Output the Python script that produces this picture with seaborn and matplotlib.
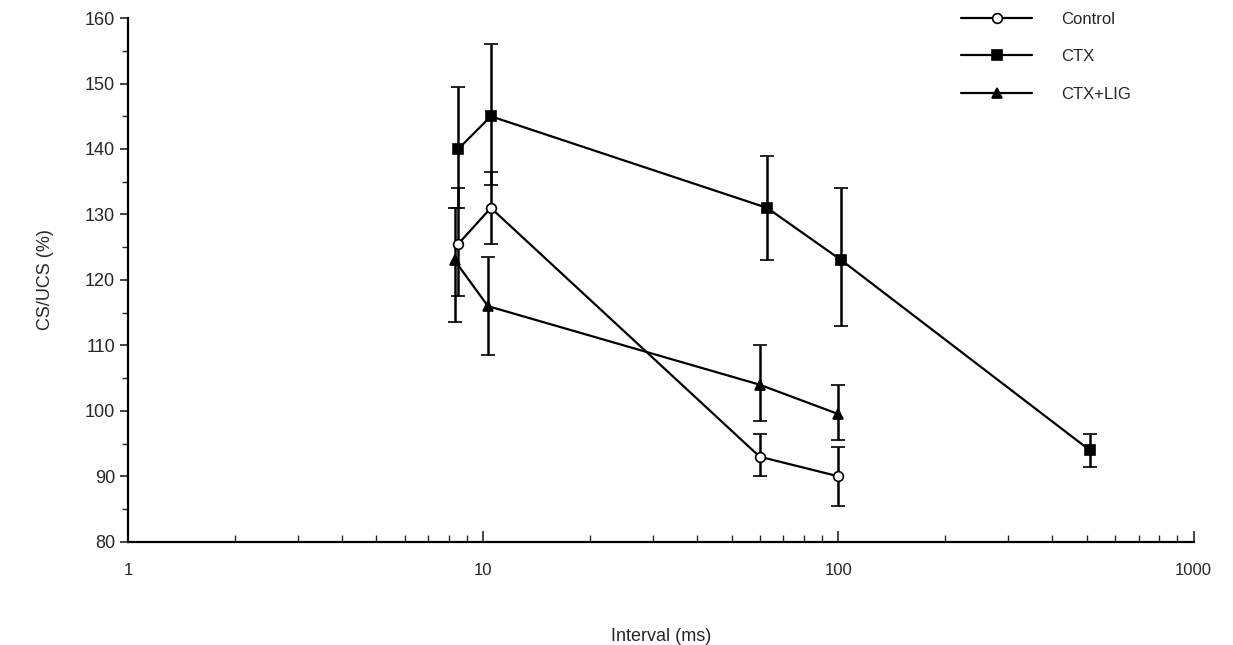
import matplotlib
matplotlib.use("Agg")
import matplotlib.pyplot as plt
from matplotlib.ticker import LogLocator, FixedLocator, NullFormatter
import seaborn as sns
import pandas as pd

groups = ["Control", "CTX", "CTX+LIG"]

ctrl_x = [8.5, 10.5, 60, 100]
ctrl_y = [125.5, 131, 93, 90]
ctrl_lo = [117.5, 125.5, 90, 85.5]
ctrl_hi = [134, 136.5, 96.5, 94.5]

ctx_x = [8.5, 10.5, 63, 102, 510]
ctx_y = [140, 145, 131, 123, 94]
ctx_lo = [131, 134.5, 123, 113, 91.5]
ctx_hi = [149.5, 156, 139, 134, 96.5]

lig_x = [8.3, 10.3, 60, 100]
lig_y = [123, 116, 104, 99.5]
lig_lo = [113.5, 108.5, 98.5, 95.5]
lig_hi = [131, 123.5, 110, 104]

sns.set_theme(style="ticks")
plt.rcParams["font.family"] = ["Liberation Sans", "DejaVu Sans"]

df = pd.concat([
    pd.DataFrame({"interval": ctrl_x, "ratio": ctrl_y, "group": "Control"}),
    pd.DataFrame({"interval": ctx_x, "ratio": ctx_y, "group": "CTX"}),
    pd.DataFrame({"interval": lig_x, "ratio": lig_y, "group": "CTX+LIG"}),
], ignore_index=True)

fig = plt.figure(figsize=(12.33, 6.45), dpi=100)
ax = fig.add_axes([0.104, 0.16, 0.864, 0.812])

# error bars first, so markers sit on top
for xs, ys, lo, hi in [(ctrl_x, ctrl_y, ctrl_lo, ctrl_hi),
                       (ctx_x, ctx_y, ctx_lo, ctx_hi),
                       (lig_x, lig_y, lig_lo, lig_hi)]:
    err = [[y - l for y, l in zip(ys, lo)], [h - y for y, h in zip(ys, hi)]]
    ax.errorbar(xs, ys, yerr=err, fmt="none", ecolor="black",
                elinewidth=1.8, capsize=5, capthick=1.8, zorder=2)

sns.lineplot(data=df, x="interval", y="ratio", hue="group", style="group",
             hue_order=groups, style_order=groups,
             palette=["black"] * 3, dashes=False,
             markers={"Control": "o", "CTX": "s", "CTX+LIG": "^"},
             markersize=7, linewidth=1.6, sort=True, estimator=None,
             errorbar=None, ax=ax, zorder=3)

# open circle for control
for line in ax.lines:
    if line.get_marker() == "o":
        line.set_markerfacecolor("white")
    line.set_markeredgecolor("black")
    line.set_markeredgewidth(1.2)

ax.set_xscale("log")
ax.set_xlim(1, 1000)
ax.set_ylim(80, 160)
ax.xaxis.set_major_locator(FixedLocator([1, 10, 100, 1000]))
ax.set_xticklabels(["1", "10", "100", "1000"])
ax.xaxis.set_minor_locator(LogLocator(base=10, subs=range(2, 10)))
ax.xaxis.set_minor_formatter(NullFormatter())
ax.set_yticks(range(80, 161, 10))
ax.set_yticks(range(85, 160, 10), minor=True)

ax.tick_params(axis="x", which="major", direction="in", length=8, width=1.2,
               labelsize=12, pad=15)
ax.tick_params(axis="x", which="minor", direction="in", length=5, width=1.0)
ax.tick_params(axis="y", which="major", direction="out", length=6, width=1.2,
               labelsize=13)
ax.tick_params(axis="y", which="minor", direction="out", length=4, width=1.0)

sns.despine(ax=ax)
for side in ["left", "bottom"]:
    ax.spines[side].set_linewidth(1.6)
    ax.spines[side].set_color("black")

ax.set_xlabel("Interval (ms)", fontsize=13, labelpad=36)
ax.set_ylabel("CS/UCS (%)", fontsize=13, labelpad=22)

handles, labels = ax.get_legend_handles_labels()
leg = ax.legend(handles, labels, loc="upper left",
                bbox_to_anchor=(0.767, 1.005), bbox_transform=fig.transFigure,
                frameon=False, handlelength=4.3, handletextpad=1.7,
                labelspacing=1.35, fontsize=12)
for h in leg.legend_handles:
    h.set_color("black")
    h.set_markeredgecolor("black")
    if h.get_marker() == "o":
        h.set_markerfacecolor("white")

fig.savefig("out.png", dpi=100, facecolor="white")
